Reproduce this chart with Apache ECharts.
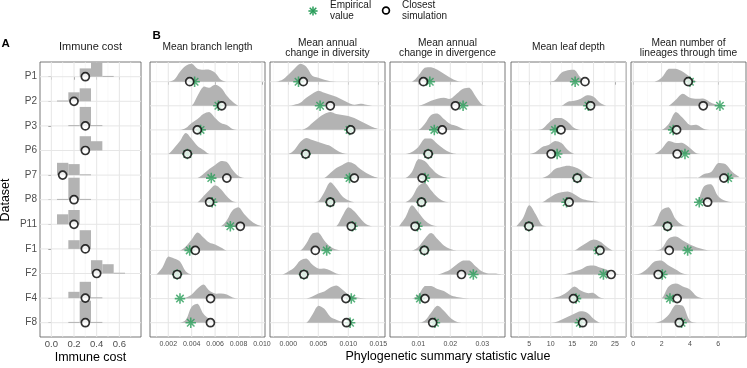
<!DOCTYPE html>
<html>
<head>
<meta charset="utf-8">
<script src="https://cdn.jsdelivr.net/npm/echarts@6/dist/echarts.min.js"></script>
<style>
  html, body { margin: 0; padding: 0; background: #fff; }
  #chart { width: 747px; height: 368px; }
</style>
</head>
<body>
<div id="chart"></div>
<script>
const datasets = ["P1", "P2", "P3", "P6", "P7", "P8", "P11", "F1", "F2", "F4", "F8"];

// A: immune cost histograms (bin centres, heights per dataset)
const immuneBins = [0, 0.1, 0.2, 0.3, 0.4, 0.5, 0.6];
const immuneBinWidth = 0.1;
const immuneHist = [
  [0, 0, 0, 8.3, 14.5, 0.8, 0],
  [0, 0.8, 9, 13, 0, 0, 0],
  [0, 0, 0.8, 19, 0.8, 0, 0],
  [0, 0, 0, 14.3, 9.3, 0, 0],
  [0, 12.3, 11, 0.8, 0, 0, 0],
  [0, 0.8, 22, 0.8, 0, 0, 0],
  [0, 10, 14.3, 0, 0, 0, 0],
  [0, 0, 8.7, 18.7, 0, 0, 0],
  [0, 0, 0, 0, 13.3, 9.3, 0.8],
  [0, 0, 6.3, 16.3, 0.8, 0, 0],
  [0, 0, 0.8, 22, 0.8, 0, 0]
];
const immuneSim = [0.3, 0.2, 0.3, 0.3, 0.1, 0.2, 0.2, 0.3, 0.4, 0.3, 0.3];
const immuneTicks = [0, 0.2, 0.4, 0.6];
const immuneTickLabels = ["0.0", "0.2", "0.4", "0.6"];
const immuneMinor = [0.1, 0.3, 0.5, 0.7];

// B1: mean branch length
const branchX = [0.001, 0.0015, 0.002, 0.0025, 0.003, 0.0035, 0.004, 0.0045, 0.005, 0.0055,
  0.006, 0.0065, 0.007, 0.0075, 0.008, 0.0085, 0.009, 0.0095, 0.010];
const branchDens = [
  [0, 0, 0, 2, 10, 16, 18, 13, 12, 12, 9, 2, 0, 0, 0, 0, 0, 0, 0],
  [0, 0, 0, 0, 0, 0, 0, 10, 19, 18, 21, 18, 10, 4, 0, 0, 0, 0, 0],
  [0, 0, 0, 0, 0, 2, 7, 11, 16, 18, 12, 7, 5, 1, 0, 0, 0, 0, 0],
  [0, 0, 0, 6, 13, 21, 15, 8, 4, 0, 0, 0, 0, 0, 0, 0, 0, 0, 0],
  [0, 0, 0, 0, 0, 0, 0, 0, 4, 9, 13, 17, 16, 8, 2, 0, 0, 0, 0],
  [0, 0, 0, 0, 0, 0, 0, 0, 6, 12, 17, 13, 6, 1, 0, 0, 0, 0, 0],
  [0, 0, 0, 0, 0, 0, 0, 0, 0, 0, 0, 0, 6, 16, 19, 12, 6, 2, 0],
  [0, 0, 0, 0, 0, 4, 11, 18, 13, 8, 6, 3, 0, 0, 0, 0, 0, 0, 0],
  [0, 7, 18, 16, 13, 3, 0, 0, 0, 0, 0, 0, 0, 0, 0, 0, 0, 0, 0],
  [0, 0, 0, 0, 0, 1, 4, 10, 14, 8, 5, 5, 4, 1, 0, 0, 0, 0, 0],
  [0, 0, 0, 0, 0, 3, 16, 19, 9, 4, 1, 0, 0, 0, 0, 0, 0, 0, 0]
];
const branchEmp = [0.00425, 0.00628, 0.00476, 0.00363, 0.00567, 0.00575, 0.0073, 0.00383, 0.00276, 0.0030, 0.00392];
const branchSim = [0.00383, 0.00656, 0.00448, 0.00363, 0.0070, 0.00553, 0.00815, 0.00431, 0.00276, 0.00561, 0.0056];
const branchTicks = [0.002, 0.004, 0.006, 0.008, 0.010];
const branchTickLabels = ["0.002", "0.004", "0.006", "0.008", "0.010"];
const branchMinor = [0.001, 0.003, 0.005, 0.007, 0.009];

// B2: mean annual change in diversity
const diversityX = [-0.002, -0.001, 0, 0.001, 0.002, 0.003, 0.004, 0.005, 0.006, 0.007,
  0.008, 0.009, 0.010, 0.011, 0.012, 0.013, 0.014, 0.015];
const diversityDens = [
  [0, 2, 7, 13, 18, 15, 6, 4, 2, 0.5, 0, 0, 0, 0, 0, 0, 0, 0],
  [0, 0, 0, 1, 3, 8, 12, 15, 13, 11, 9, 6, 3, 1, 2, 1, 0, 0],
  [0, 0, 0, 0, 0, 2, 7, 12, 16, 18, 16, 15, 14, 12, 9, 6, 3, 1],
  [0, 0, 0, 4, 12, 16, 14, 12, 10, 8, 4, 1, 0, 0, 0, 0, 0, 0],
  [0, 0, 0, 0, 0, 0, 0, 0, 0, 5, 10, 13, 16, 14, 9, 5, 2, 0],
  [0, 0, 0, 0, 0, 0, 0, 1, 10, 20, 14, 6, 2, 0, 0, 0, 0, 0],
  [0, 0, 0, 0, 0, 0, 0, 0, 0, 0, 0, 10, 19, 15, 8, 2, 0, 0],
  [0, 0, 0, 0, 0, 7, 17, 18, 10, 4, 1, 0, 0, 0, 0, 0, 0, 0],
  [0, 0, 3, 7, 14, 16, 10, 6, 6, 4, 1, 0, 0, 0, 0, 0, 0, 0],
  [0, 0, 0, 0, 0, 0, 2, 5, 7, 11, 13, 9, 4, 1.5, 0.5, 0, 0, 0],
  [0, 0, 0, 0, 0, 0, 8, 17, 14, 6, 3, 1, 0.3, 0, 0, 0, 0, 0]
];
const diversityEmp = [0.0017, 0.0053, 0.0102, 0.0029, 0.0102, 0.0070, 0.0107, 0.0064, 0.0026, 0.0105, 0.0103];
const diversitySim = [0.0025, 0.0070, 0.0104, 0.0029, 0.0110, 0.0070, 0.0105, 0.0045, 0.0026, 0.0096, 0.0097];
const diversityTicks = [0, 0.005, 0.010, 0.015];
const diversityTickLabels = ["0.000", "0.005", "0.010", "0.015"];
const diversityMinor = [-0.0025, 0.0025, 0.0075, 0.0125];

// B3: mean annual change in divergence
const divergenceX = [0.004, 0.006, 0.008, 0.010, 0.012, 0.014, 0.016, 0.018, 0.020, 0.022,
  0.024, 0.026, 0.028, 0.030, 0.032, 0.034, 0.036];
const divergenceDens = [
  [0, 0, 0, 6, 14, 14.5, 12, 8, 4, 1, 0, 0, 0, 0, 0, 0, 0],
  [0, 0, 0, 0, 2, 5, 7, 8, 7, 12, 17, 18, 9, 1, 0, 0, 0],
  [0, 0, 0, 0, 6, 15, 16.5, 11, 6, 4, 1, 0, 0, 0, 0, 0, 0],
  [0, 0, 2, 7, 15.5, 15.5, 10, 5, 1.5, 0, 0, 0, 0, 0, 0, 0, 0],
  [0, 0, 6, 19, 17, 10, 4, 1, 0, 0, 0, 0, 0, 0, 0, 0, 0],
  [0, 0, 5, 16, 19.5, 12, 5, 1, 0, 0, 0, 0, 0, 0, 0, 0, 0],
  [0, 9, 21, 14, 6, 1.5, 0, 0, 0, 0, 0, 0, 0, 0, 0, 0, 0],
  [0, 0, 0, 3.5, 11.5, 17.5, 11.5, 5, 1.5, 0, 0, 0, 0, 0, 0, 0, 0],
  [0, 0, 0, 0, 0, 0, 0, 2, 5, 10, 14, 14, 8, 3, 1, 1, 0],
  [0, 0, 0, 3.5, 12.5, 12.5, 9.5, 7.5, 3.5, 1.5, 0.5, 0, 0, 0, 0, 0, 0],
  [0, 0, 0, 0, 2, 10, 17, 12, 5, 1, 0, 0, 0, 0, 0, 0, 0]
];
const divergenceEmp = [0.0136, 0.0240, 0.0150, 0.0131, 0.0121, 0.0110, 0.0097, 0.0119, 0.0272, 0.0105, 0.0152];
const divergenceSim = [0.0116, 0.0216, 0.0175, 0.0131, 0.0112, 0.0110, 0.0090, 0.0119, 0.0235, 0.0121, 0.0145];
const divergenceTicks = [0.01, 0.02, 0.03];
const divergenceTickLabels = ["0.01", "0.02", "0.03"];
const divergenceMinor = [0.005, 0.015, 0.025, 0.035];

// B4: mean leaf depth
const leafX = [2, 3.5, 5, 6.5, 8, 9.5, 11, 12.5, 14, 15.5, 17, 18.5, 20, 21.5, 23, 24.5, 26];
const leafDens = [
  [0, 0, 0, 0, 0, 0, 1.5, 9, 11.5, 12, 4, 0, 0, 0, 0, 0, 0],
  [0, 0, 0, 0, 0, 0, 0, 0, 4, 5, 7, 10.5, 9, 3, 0, 0, 0],
  [0, 0, 0, 0, 1, 7, 12, 12, 8, 2, 0, 0, 0, 0, 0, 0, 0],
  [0, 0, 0, 2, 7, 9, 13, 11, 4, 0, 0, 0, 0, 0, 0, 0, 0],
  [0, 0, 0, 0, 0, 3, 9, 11, 12.3, 11, 8, 3, 0, 0, 0, 0, 0],
  [0, 0, 0, 0, 0, 4, 8, 10, 10.7, 8, 4, 2, 1, 0, 0, 0, 0],
  [0, 8, 21, 12, 1, 0, 0, 0, 0, 0, 0, 0, 0, 0, 0, 0, 0],
  [0, 0, 0, 0, 0, 0, 0, 0, 0, 0, 4, 8, 11, 9, 4, 0, 0],
  [0, 0, 0, 0, 0, 0, 0, 0, 1, 3, 5, 8.5, 9, 7, 5, 2, 0],
  [0, 0, 0, 0, 0, 0, 1, 3, 7, 12, 8, 5.5, 5.5, 1, 0, 0, 0],
  [0, 0, 0, 0, 0, 0, 0.5, 3, 6, 9, 11.5, 10, 4, 0, 0, 0, 0]
];
const leafEmp = [15.7, 18.8, 11.0, 11.5, 16.2, 13.7, 4.9, 21.1, 22.3, 15.9, 16.8];
const leafSim = [18.0, 19.3, 12.4, 10.1, 16.2, 14.3, 4.9, 21.5, 24.1, 15.3, 17.45];
const leafTicks = [5, 10, 15, 20, 25];
const leafTickLabels = ["5", "10", "15", "20", "25"];
const leafMinor = [2.5, 7.5, 12.5, 17.5, 22.5, 27.5];

// B5: mean number of lineages through time
const lineageX = [0, 0.5, 1, 1.5, 2, 2.5, 3, 3.5, 4, 4.5, 5, 5.5, 6, 6.5, 7, 7.5];
const lineageDens = [
  [0, 0, 0, 0, 4, 13, 13, 10, 5, 0, 0, 0, 0, 0, 0, 0],
  [0, 0, 0, 0, 0, 0, 6, 12, 8, 7, 7, 3, 1, 0, 0, 0],
  [0, 0, 0, 0, 0, 6, 18, 12, 5, 5, 1, 0, 0, 0, 0, 0],
  [0, 0, 0, 0, 5, 13, 11, 11, 6, 0.5, 0, 0, 0, 0, 0, 0],
  [0, 0, 0, 0, 0, 0, 0, 0, 0, 0, 4, 6, 15, 14, 6, 0.8],
  [0, 0, 0, 0, 0, 0, 0, 0, 0, 0.5, 16, 18, 6, 1.5, 0, 0],
  [0, 0, 0, 2, 16, 19, 7, 1, 0, 0, 0, 0, 0, 0, 0, 0],
  [0, 0, 0, 0, 2, 12, 14, 10, 6, 3, 1, 0, 0, 0, 0, 0],
  [0, 1, 6, 13, 14, 9, 5, 1, 0, 0, 0, 0, 0, 0, 0, 0],
  [0, 0, 0, 0, 0, 12, 15, 12, 9, 2, 0, 0, 0, 0, 0, 0],
  [0, 0, 0, 0, 2, 8, 18, 17, 2, 0, 0, 0, 0, 0, 0, 0]
];
const lineageEmp = [4.0, 6.12, 2.82, 3.65, 6.7, 4.66, 2.42, 3.84, 2.05, 2.59, 3.41];
const lineageSim = [3.88, 4.94, 3.06, 3.1, 6.4, 5.25, 2.42, 2.54, 1.76, 3.1, 3.25];
const lineageTicks = [0, 2, 4, 6];
const lineageTickLabels = ["0", "2", "4", "6"];
const lineageMinor = [1, 3, 5, 7];

// ---- layout / styling ----
const FONT = "Liberation Sans, Arial, Helvetica, sans-serif";
const GRID_TOP = 62, GRID_H = 275;
const RIDGE = "#b3b3b3";
const GREEN = "#2a9d5a";
const rowIndex = datasets.map((d, i) => i);

const panels = [
  { left: 40, width: 101, min: -0.1, max: 0.791, ymin: -0.598, ymax: 10.581, rowPx: 24.6,
    ticks: immuneTicks, labels: immuneTickLabels, minor: immuneMinor, hist: immuneHist, sim: immuneSim,
    labelSize: 9.5, title: "Immune cost", titleY: [47] },
  { left: 150, width: 115, min: 0.00044, max: 0.01026, xs: branchX, dens: branchDens, emp: branchEmp, sim: branchSim,
    ticks: branchTicks, labels: branchTickLabels, minor: branchMinor, title: "Mean branch length", titleY: [47] },
  { left: 270, width: 115, min: -0.00305, max: 0.01612, xs: diversityX, dens: diversityDens, emp: diversityEmp, sim: diversitySim,
    ticks: diversityTicks, labels: diversityTickLabels, minor: diversityMinor, title: "Mean annual\nchange in diversity", titleY: [42.7, 53.3] },
  { left: 390, width: 115, min: 0.00116, max: 0.0371, xs: divergenceX, dens: divergenceDens, emp: divergenceEmp, sim: divergenceSim,
    ticks: divergenceTicks, labels: divergenceTickLabels, minor: divergenceMinor, title: "Mean annual\nchange in divergence", titleY: [42.7, 53.3] },
  { left: 511, width: 115, min: 0.73, max: 27.57, xs: leafX, dens: leafDens, emp: leafEmp, sim: leafSim,
    ticks: leafTicks, labels: leafTickLabels, minor: leafMinor, title: "Mean leaf depth", titleY: [47] },
  { left: 631, width: 115, min: -0.16, max: 7.96, xs: lineageX, dens: lineageDens, emp: lineageEmp, sim: lineageSim,
    ticks: lineageTicks, labels: lineageTickLabels, minor: lineageMinor, title: "Mean number of\nlineages through time", titleY: [42.7, 53.3] }
];
panels.forEach((p, i) => {
  if (i > 0) { p.ymin = -0.817; p.ymax = 10.593; p.rowPx = 24.1; p.labelSize = 7; }
});

function labelFor(p) {
  return (v) => {
    const k = p.ticks.findIndex((t) => Math.abs(t - v) < 1e-9);
    return k >= 0 ? p.labels[k] : "";
  };
}

// kind 0 = major vertical, 1 = minor vertical, 2 = row line
function gridRender(p) {
  return (params, api) => {
    const v = api.value(0), r = api.value(1), kind = api.value(2);
    let a, b;
    if (kind === 2) { a = api.coord([p.min, r]); b = api.coord([p.max, r]); }
    else { a = api.coord([v, p.ymin]); b = api.coord([v, p.ymax]); }
    return {
      type: "line", silent: true,
      shape: { x1: a[0], y1: a[1], x2: b[0], y2: b[1] },
      style: { stroke: kind === 1 ? "#f3f3f3" : "#e6e6e6", lineWidth: kind === 1 ? 0.6 : 1 }
    };
  };
}

function ridgeRender(p) {
  return (params, api) => {
    const r = api.value(1);
    const hs = p.dens[r];
    const pts = p.xs.map((x, j) => api.coord([x, r - hs[j] / p.rowPx]));
    return {
      type: "polygon",
      shape: { points: pts, smooth: 0.35, smoothConstraint: [pts[0].slice(), pts[0].slice()] },
      style: { fill: RIDGE }
    };
  };
}

function histRender(p) {
  return (params, api) => {
    const r = api.value(1);
    const children = [];
    immuneBins.forEach((b, j) => {
      const h = p.hist[r][j];
      if (!h) return;
      const p0 = api.coord([b - immuneBinWidth / 2, r]);
      const p1 = api.coord([b + immuneBinWidth / 2, r - h / p.rowPx]);
      children.push({ type: "rect", shape: { x: p0[0], y: p1[1], width: p1[0] - p0[0], height: Math.max(1, p0[1] - p1[1]) }, style: { fill: RIDGE } });
    });
    return { type: "group", children };
  };
}

const starPath = "path://M-5,-0.75L5,-0.75L5,0.75L-5,0.75Z M-0.75,-5L0.75,-5L0.75,5L-0.75,5Z " +
  "M3.05,4.03L-4.03,-3.05L-3.05,-4.03L4.03,3.05Z M4.03,-3.05L-3.05,4.03L-4.03,3.05L3.05,-4.03Z";

const grids = [], xAxes = [], yAxes = [], series = [], graphics = [];
panels.forEach((p, i) => {
  grids.push({ left: p.left, top: GRID_TOP, width: p.width, height: GRID_H, show: true,
    borderColor: "#555", borderWidth: 0.8, backgroundColor: "#fff" });
  xAxes.push({
    gridIndex: i, type: "value", min: p.min, max: p.max,
    axisLine: { show: false }, splitLine: { show: false },
    axisTick: { show: true, customValues: p.ticks, length: 3, lineStyle: { color: "#555", width: 0.8 } },
    axisLabel: { customValues: p.ticks, formatter: labelFor(p), fontSize: p.labelSize, color: "#4d4d4d",
      margin: i === 0 ? 2.5 : 4, fontFamily: FONT }
  });
  yAxes.push({
    gridIndex: i, type: "value", min: p.ymin, max: p.ymax, inverse: true,
    axisLine: { show: false }, splitLine: { show: false },
    axisTick: { show: i === 0, customValues: rowIndex, length: 3, lineStyle: { color: "#555", width: 0.8 } },
    axisLabel: { show: i === 0, customValues: rowIndex, formatter: (v) => datasets[Math.round(v)],
      fontSize: 10, color: "#4d4d4d", margin: 3, fontFamily: FONT }
  });

  const gridData = []
    .concat(p.ticks.map((v) => [v, 0, 0]))
    .concat(p.minor.filter((v) => v > p.min && v < p.max).map((v) => [v, 0, 1]))
    .concat(rowIndex.map((r) => [p.min, r, 2]));
  series.push({ type: "custom", xAxisIndex: i, yAxisIndex: i, z: 1, silent: true,
    renderItem: gridRender(p), data: gridData });

  series.push({ type: "custom", xAxisIndex: i, yAxisIndex: i, z: 2, silent: true,
    renderItem: i === 0 ? histRender(p) : ridgeRender(p), data: rowIndex.map((r) => [p.min, r]) });

  if (p.emp) {
    series.push({ type: "scatter", name: "Empirical value", xAxisIndex: i, yAxisIndex: i, z: 3, silent: true,
      symbol: starPath, symbolSize: 10.5, itemStyle: { color: GREEN },
      data: p.emp.map((v, r) => [v, r]) });
  }
  series.push({ type: "scatter", name: "Closest simulation", xAxisIndex: i, yAxisIndex: i, z: 4, silent: true,
    symbol: "circle", symbolSize: 8, itemStyle: { color: "#fff", borderColor: "#000", borderWidth: 1.7 },
    data: p.sim.map((v, r) => [v, r]) });

  // facet strip title
  graphics.push({ type: "text", silent: true, x: p.left + p.width / 2, y: p.titleY.length > 1 ? 48 : p.titleY[0],
    style: { text: p.title, fontSize: i === 0 ? 11 : 10.2, fontFamily: FONT, fill: "#1a1a1a",
      textAlign: "center", textVerticalAlign: "middle", lineHeight: 10.6 } });
});

// panel tags, axis titles, legend
graphics.push(
  { type: "text", x: 1.5, y: 38, style: { text: "A", fontSize: 11.5, fontWeight: "bold", fontFamily: FONT, fill: "#000" } },
  { type: "text", x: 152.5, y: 30, style: { text: "B", fontSize: 11.5, fontWeight: "bold", fontFamily: FONT, fill: "#000" } },
  { type: "text", x: 90.5, y: 358, style: { text: "Immune cost", fontSize: 12.5, fontFamily: FONT, fill: "#000",
      textAlign: "center", textVerticalAlign: "middle" } },
  { type: "text", x: 448, y: 357, style: { text: "Phylogenetic summary statistic value", fontSize: 12.5, fontFamily: FONT,
      fill: "#000", textAlign: "center", textVerticalAlign: "middle" } },
  { type: "text", x: 6, y: 200, rotation: Math.PI / 2, style: { text: "Dataset", fontSize: 12.5, fontFamily: FONT,
      fill: "#000", textAlign: "center", textVerticalAlign: "middle" } },
  { type: "group", x: 313, y: 11, children: [
      { type: "line", shape: { x1: -4.6, y1: 0, x2: 4.6, y2: 0 }, style: { stroke: GREEN, lineWidth: 1.5 } },
      { type: "line", shape: { x1: 0, y1: -4.6, x2: 0, y2: 4.6 }, style: { stroke: GREEN, lineWidth: 1.5 } },
      { type: "line", shape: { x1: -3.3, y1: -3.3, x2: 3.3, y2: 3.3 }, style: { stroke: GREEN, lineWidth: 1.5 } },
      { type: "line", shape: { x1: -3.3, y1: 3.3, x2: 3.3, y2: -3.3 }, style: { stroke: GREEN, lineWidth: 1.5 } }
  ] },
  { type: "text", x: 330, y: 10.5, style: { text: "Empirical\nvalue", fontSize: 10, lineHeight: 10.5, fontFamily: FONT,
      fill: "#1a1a1a", textVerticalAlign: "middle" } },
  { type: "circle", x: 386, y: 10.5, shape: { r: 3.4 }, style: { fill: "#fff", stroke: "#000", lineWidth: 1.7 } },
  { type: "text", x: 402, y: 10.5, style: { text: "Closest\nsimulation", fontSize: 10, lineHeight: 10.5, fontFamily: FONT,
      fill: "#1a1a1a", textVerticalAlign: "middle" } }
);

const chart = echarts.init(document.getElementById("chart"), null, { renderer: "canvas" });
chart.setOption({
  animation: false,
  backgroundColor: "#fff",
  textStyle: { fontFamily: FONT },
  grid: grids,
  xAxis: xAxes,
  yAxis: yAxes,
  series: series,
  graphic: graphics
});
</script>
</body>
</html>
